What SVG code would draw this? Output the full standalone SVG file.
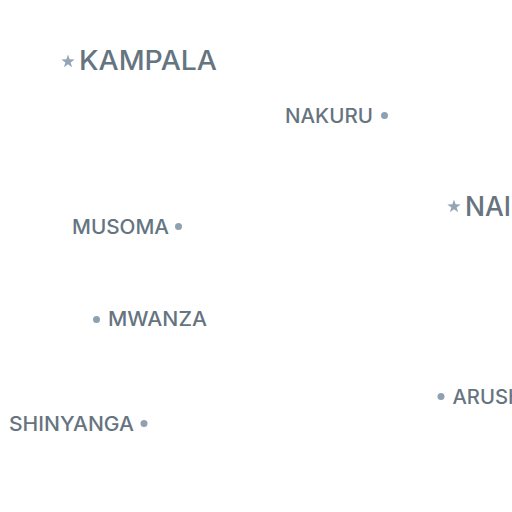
<svg xmlns="http://www.w3.org/2000/svg" width="512" height="512" viewBox="0 0 512 512">
<style>
text{font-family:"Inter","Lato",sans-serif;fill:#66747f;font-weight:500}
.s{font-size:19.500px}
.l{font-size:26.500px}
.d{fill:#8fa1b0}
.st{fill:#93a5b5}
</style>
<rect width="512" height="512" fill="#fff"/>
<g id="kampala"><polygon class="st" points="68,54.500 69.600,59.300 74.700,59.400 70.600,62.400 72.100,67.300 68,64.300 63.900,67.300 65.400,62.400 61.300,59.400 66.400,59.300"/><text class="l" x="79" y="70" textLength="138" lengthAdjust="spacingAndGlyphs">KAMPALA</text></g>
<g id="nakuru"><text class="s" x="285" y="122.500" textLength="88" lengthAdjust="spacingAndGlyphs">NAKURU</text><circle class="d" cx="384.500" cy="115.500" r="3.500"/></g>
<g id="nairobi"><polygon class="st" points="454,199.500 455.600,204.300 460.700,204.400 456.600,207.400 458.100,212.300 454,209.300 449.900,212.300 451.400,207.400 447.300,204.400 452.400,204.300"/><text class="l" x="465" y="215.500">NAIROBI</text></g>
<g id="musoma"><text class="s" x="72" y="233.500" textLength="97" lengthAdjust="spacingAndGlyphs">MUSOMA</text><circle class="d" cx="178.500" cy="226.500" r="3.500"/></g>
<g id="mwanza"><circle class="d" cx="96.500" cy="319.500" r="3.500"/><text class="s" x="108" y="326" textLength="99" lengthAdjust="spacingAndGlyphs">MWANZA</text></g>
<g id="shinyanga"><text class="s" x="9" y="430.500" textLength="125" lengthAdjust="spacingAndGlyphs">SHINYANGA</text><circle class="d" cx="144" cy="423.500" r="3.500"/></g>
<g id="arusha"><circle class="d" cx="441" cy="396.500" r="3.500"/><text class="s" x="452.500" y="403.500" textLength="85" lengthAdjust="spacingAndGlyphs">ARUSHA</text></g>
</svg>
